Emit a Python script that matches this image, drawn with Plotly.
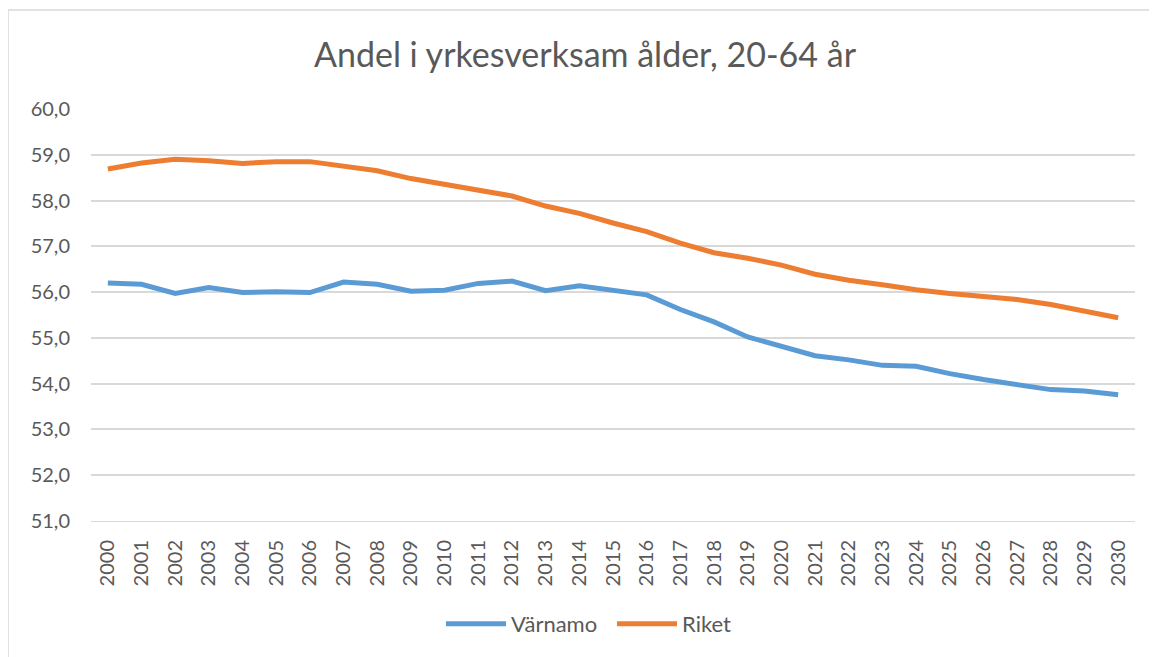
import plotly.graph_objects as go

years = [str(y) for y in range(2000, 2031)]
varnamo = [56.20, 56.17, 55.97, 56.10, 55.99, 56.01, 55.99, 56.22, 56.17, 56.02,
           56.04, 56.19, 56.24, 56.03, 56.14, 56.05, 55.94, 55.62, 55.35, 55.02,
           54.81, 54.61, 54.52, 54.40, 54.38, 54.22, 54.09, 53.98, 53.87, 53.84, 53.76]
riket = [58.69, 58.82, 58.90, 58.87, 58.81, 58.85, 58.85, 58.76, 58.65, 58.48,
         58.36, 58.23, 58.10, 57.88, 57.72, 57.51, 57.32, 57.07, 56.86, 56.74,
         56.59, 56.39, 56.26, 56.16, 56.05, 55.97, 55.91, 55.84, 55.73, 55.58, 55.44]
y_ticks = [51, 52, 53, 54, 55, 56, 57, 58, 59, 60]

FONT = "Lato, Open Sans, sans-serif"
GRAY = "#595959"

# page body has an 8px margin, so the figure starts at (8, 8)
OFF = 8
W, H = 1157 - OFF, 657 - OFF
L = 91 - OFF
T = 109 - OFF
pw = 1135 - 91
ph = 521 - 109
R = W - L - pw
B = H - T - ph

def py(page_y):
    return (521 - page_y) / ph

def px(page_x):
    return (page_x - 91) / pw

fig = go.Figure()
fig.add_trace(go.Scatter(x=years, y=varnamo, name="Värnamo", mode="lines",
                         line=dict(color="#5B9BD5", width=5)))
fig.add_trace(go.Scatter(x=years, y=riket, name="Riket", mode="lines",
                         line=dict(color="#ED7D31", width=5)))

fig.update_layout(
    width=W, height=H,
    margin=dict(l=L, r=R, t=T, b=B),
    paper_bgcolor="white", plot_bgcolor="white",
    separators=", ",
    title=dict(text="Andel i yrkesverksam ålder, 20-64 år", x=(585 - OFF) / W, xanchor="center",
               xref="container", y=1 - (55 - OFF) / H, yanchor="middle",
               font=dict(family=FONT, size=34, color=GRAY)),
    font=dict(family=FONT, color=GRAY),
    xaxis=dict(type="category", tickangle=-90, showgrid=False, zeroline=False,
               showline=True, linecolor="#D9D9D9", ticks="",
               ticklabelstandoff=10,
               tickfont=dict(size=20, color=GRAY), range=[-0.5, 30.5]),
    yaxis=dict(range=[51, 60], tickvals=y_ticks, tickformat=".1f",
               showgrid=True, gridcolor="#D9D9D9", gridwidth=1.5, zeroline=False,
               ticklabelstandoff=20,
               tickfont=dict(size=20, color=GRAY), ticks="", ticklen=0),
    legend=dict(orientation="h", x=px(447 - 6), xanchor="left", y=py(624),
                yanchor="middle", font=dict(size=22, color=GRAY),
                itemwidth=60, entrywidth=96, entrywidthmode="pixels",
                traceorder="normal"),
    shapes=[dict(type="rect", xref="paper", yref="paper",
                 x0=px(8), x1=px(1170),
                 y0=py(680), y1=py(10),
                 line=dict(color="#D9D9D9", width=1.5), fillcolor="rgba(0,0,0,0)",
                 layer="below")],
)

fig.write_html("out.html")
